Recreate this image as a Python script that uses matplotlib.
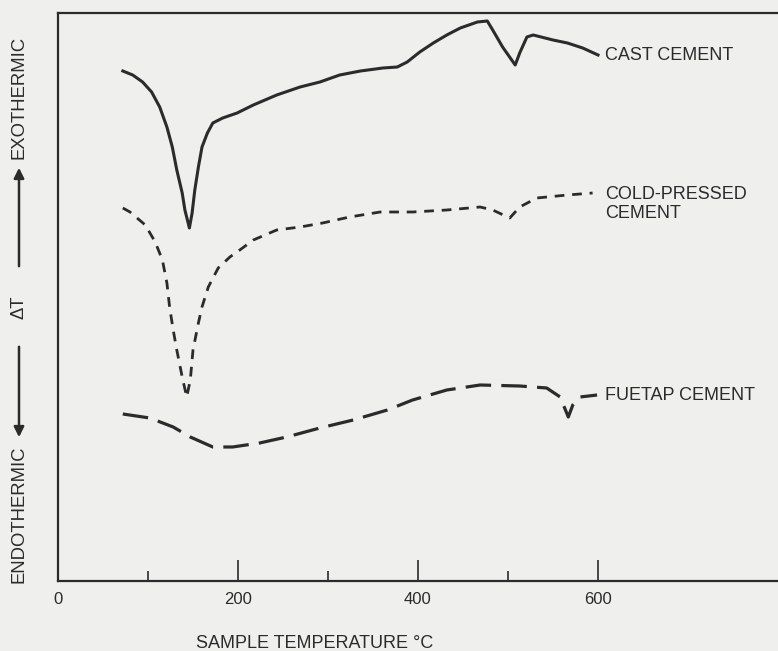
import numpy as np
import matplotlib
matplotlib.use('Agg')
from matplotlib import pyplot as plt
from matplotlib.patches import FancyArrowPatch

# DTA curves (temperature in deg C, delta T in arbitrary units)
cast_t = [72, 83, 94, 104, 113, 121, 127, 132, 138, 141, 146, 149, 152, 156,
          160, 166, 172, 183, 199, 217, 243, 269, 291, 313, 336, 361, 377, 388,
          402, 417, 432, 447, 466, 477, 483, 494, 508, 513, 521, 528, 550, 566,
          583, 600]
cast_dt = [510, 506, 499, 489, 474, 454, 434, 411, 388, 371, 353, 368, 391, 414,
           434, 448, 458, 463, 468, 476, 486, 494, 499, 506, 510, 513, 514, 519,
           529, 538, 546, 553, 559, 560, 551, 534, 516, 528, 544, 546, 541, 538,
           533, 526]

cold_t = [72, 80, 97, 108, 116, 121, 124, 128, 132, 138, 143, 147, 150, 156,
          160, 167, 178, 191, 202, 217, 243, 269, 294, 324, 358, 394, 432, 469,
          483, 502, 513, 532, 566, 594]
cold_dt = [373, 369, 356, 339, 321, 298, 274, 251, 231, 204, 184, 201, 231, 258,
           274, 294, 313, 324, 331, 341, 351, 354, 358, 364, 369, 369, 371, 374,
           371, 363, 374, 383, 386, 388]

fuetap_t = [72, 102, 128, 147, 172, 194, 224, 254, 291, 328, 366, 394, 432,
            469, 513, 543, 558, 567, 572, 580, 599]
fuetap_dt = [167, 163, 154, 144, 134, 134, 138, 144, 153, 161, 171, 181, 191,
             196, 195, 193, 184, 164, 176, 184, 186]

xticks_major = [0, 200, 400, 600]
xticks_minor = [100, 300, 500]

paper = '#efefed'
ink = '#2b2b2b'

plt.rcParams['font.family'] = ['Liberation Sans', 'DejaVu Sans']

fig = plt.figure(figsize=(7.78, 6.51), dpi=100)
fig.patch.set_facecolor(paper)
ax = fig.add_axes([58 / 778, 70 / 651, 1 - 58 / 778, 568 / 651])
ax.set_facecolor(paper)

ax.plot(cast_t, cast_dt, color=ink, lw=2.2, solid_joinstyle='round')
ax.plot(cold_t, cold_dt, color=ink, lw=2.0, dashes=(3.5, 2.8))
ax.plot(fuetap_t, fuetap_dt, color=ink, lw=2.3, dashes=(8, 3.2))

ax.set_xlim(0, 800)
ax.set_ylim(0, 568)

for s in ['left', 'top', 'bottom']:
    ax.spines[s].set_color(ink)
    ax.spines[s].set_linewidth(1.6)
ax.spines['right'].set_visible(False)

ax.set_xticks(xticks_major)
ax.set_xticks(xticks_minor, minor=True)
ax.set_yticks([])
ax.tick_params(axis='x', which='major', direction='in', length=15, width=1.2,
               color=ink, labelsize=12, labelcolor=ink, pad=8)
ax.tick_params(axis='x', which='minor', direction='in', length=7, width=1.2,
               color=ink)

ax.set_xlabel('SAMPLE TEMPERATURE \u00b0C', fontsize=13, color=ink)
ax.xaxis.set_label_coords(0.356, -0.095)

# curve labels
ax.text(608, 526, 'CAST CEMENT', fontsize=13, color=ink, va='center')
ax.text(608, 377, 'COLD-PRESSED\nCEMENT', fontsize=13, color=ink, va='center',
        linespacing=1.1)
ax.text(608, 186, 'FUETAP CEMENT', fontsize=13, color=ink, va='center')

# y axis labels with arrows
fx = 19 / 778
fig.text(fx, 1 - 97 / 651, 'EXOTHERMIC', rotation=90, ha='center', va='center',
         fontsize=13.3, color=ink)
fig.text(fx, 1 - 307 / 651, '\u0394T', rotation=90, ha='center', va='center',
         fontsize=13.3, color=ink)
fig.text(fx, 1 - 514 / 651, 'ENDOTHERMIC', rotation=90, ha='center', va='center',
         fontsize=13.3, color=ink)
fig.patches.append(FancyArrowPatch(
    (fx, 1 - 269 / 651), (fx, 1 - 165 / 651), transform=fig.transFigure,
    arrowstyle='-|>,head_length=6,head_width=3', color=ink, lw=1.8))
fig.patches.append(FancyArrowPatch(
    (fx, 1 - 344 / 651), (fx, 1 - 440 / 651), transform=fig.transFigure,
    arrowstyle='-|>,head_length=6,head_width=3', color=ink, lw=1.8))

fig.savefig('out.png', dpi=100, facecolor=paper)
